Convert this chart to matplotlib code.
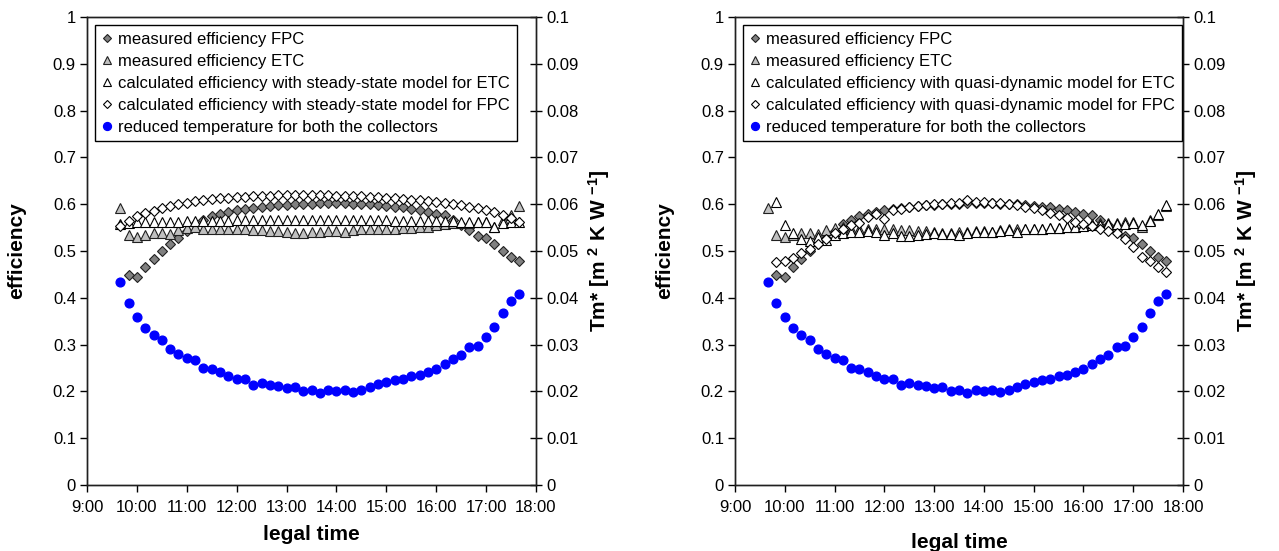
import numpy as np
import matplotlib
matplotlib.use("Agg")
import matplotlib.pyplot as plt
from matplotlib.ticker import FuncFormatter

plt.rcParams['font.family'] = ['Liberation Sans', 'DejaVu Sans']
plt.rcParams['mathtext.fontset'] = 'custom'
plt.rcParams['mathtext.rm'] = 'Liberation Sans:bold'
plt.rcParams['mathtext.it'] = 'Liberation Sans:bold'
plt.rcParams['mathtext.bf'] = 'Liberation Sans:bold'
plt.rcParams['mathtext.default'] = 'rm'

nan = np.nan

# sampling: every 10 minutes from 9:40 to 17:40
t_start = 9 + 40 / 60.0
t_step = 10 / 60.0
n_pts = 49
hours = t_start + t_step * np.arange(n_pts)

tick_hours = list(range(9, 19))
tick_labels = ["%d:00" % h for h in tick_hours]

# reduced temperature Tm* [m2 K/W] (same for both panels)
tm_reduced = [0.0434, 0.0389, 0.0359, 0.0336, 0.0320, 0.0310, 0.0290, 0.0280, 0.0271, 0.0267,
              0.0249, 0.0247, 0.0241, 0.0233, 0.0226, 0.0226, 0.0214, 0.0219, 0.0214, 0.0211,
              0.0207, 0.0209, 0.0201, 0.0203, 0.0197, 0.0204, 0.0201, 0.0203, 0.0199, 0.0204,
              0.0210, 0.0216, 0.0221, 0.0224, 0.0226, 0.0233, 0.0236, 0.0241, 0.0247, 0.0258,
              0.0269, 0.0278, 0.0294, 0.0296, 0.0317, 0.0338, 0.0368, 0.0394, 0.0408]

# measured efficiencies (same for both panels)
meas_fpc = [nan, 0.448, 0.445, 0.465, 0.482, 0.500, 0.514, 0.528, 0.543, 0.557,
            0.566, 0.574, 0.580, 0.584, 0.587, 0.590, 0.592, 0.594, 0.596, 0.598,
            0.599, 0.600, 0.601, 0.601, 0.602, 0.603, 0.603, 0.602, 0.601, 0.600,
            0.600, 0.599, 0.596, 0.595, 0.593, 0.590, 0.587, 0.583, 0.580, 0.576,
            0.567, 0.555, 0.545, 0.533, 0.527, 0.514, 0.501, 0.488, 0.478]

meas_etc = [0.591, 0.534, 0.530, 0.534, 0.538, 0.538, 0.536, 0.545, 0.550, 0.552,
            0.548, 0.546, 0.546, 0.546, 0.546, 0.546, 0.545, 0.545, 0.543, 0.543,
            0.541, 0.538, 0.538, 0.541, 0.541, 0.543, 0.543, 0.541, 0.545, 0.546,
            0.547, 0.547, 0.548, 0.548, 0.550, 0.550, 0.551, 0.552, 0.555, 0.557,
            0.559, 0.559, 0.560, 0.561, 0.561, 0.552, 0.566, 0.577, 0.596]

# steady-state model (left panel)
ss_etc = [0.557, 0.560, 0.561, 0.561, 0.562, 0.562, 0.563, 0.563, 0.564, 0.564,
          0.564, 0.565, 0.565, 0.565, 0.566, 0.566, 0.566, 0.566, 0.566, 0.566,
          0.566, 0.566, 0.566, 0.566, 0.566, 0.566, 0.566, 0.566, 0.566, 0.566,
          0.566, 0.566, 0.566, 0.565, 0.565, 0.565, 0.565, 0.565, 0.564, 0.564,
          0.564, 0.563, 0.563, 0.562, 0.561, 0.552, 0.559, 0.561, 0.562]

ss_fpc = [0.554, 0.565, 0.574, 0.582, 0.586, 0.591, 0.596, 0.600, 0.603, 0.606,
          0.608, 0.611, 0.613, 0.614, 0.616, 0.616, 0.617, 0.618, 0.618, 0.619,
          0.619, 0.619, 0.619, 0.619, 0.619, 0.619, 0.618, 0.618, 0.617, 0.617,
          0.616, 0.615, 0.614, 0.613, 0.611, 0.610, 0.609, 0.607, 0.605, 0.603,
          0.600, 0.598, 0.595, 0.592, 0.588, 0.583, 0.577, 0.570, 0.562]

# quasi-dynamic model (right panel)
qd_etc = [nan, 0.605, 0.556, 0.538, 0.525, 0.522, 0.530, 0.523, 0.535, 0.538,
          0.540, 0.541, 0.543, 0.540, 0.534, 0.538, 0.531, 0.532, 0.534, 0.537,
          0.538, 0.537, 0.536, 0.535, 0.538, 0.540, 0.541, 0.541, 0.543, 0.545,
          0.541, 0.546, 0.547, 0.548, 0.549, 0.550, 0.551, 0.552, 0.554, 0.555,
          0.556, 0.557, 0.558, 0.558, 0.559, 0.556, 0.564, 0.578, 0.598]

qd_fpc = [nan, 0.477, 0.479, 0.486, 0.495, 0.505, 0.514, 0.525, 0.538, 0.548,
          0.556, 0.560, 0.572, 0.578, 0.568, 0.588, 0.590, 0.594, 0.596, 0.598,
          0.600, 0.601, 0.602, 0.602, 0.610, 0.604, 0.604, 0.603, 0.602, 0.601,
          0.598, 0.595, 0.591, 0.588, 0.582, 0.577, 0.570, 0.563, 0.558, 0.553,
          0.548, 0.543, 0.538, 0.525, 0.509, 0.488, 0.479, 0.466, 0.456]

panels = [
    ("steady-state", ss_etc, ss_fpc),
    ("quasi-dynamic", qd_etc, qd_fpc),
]

fig = plt.figure(figsize=(12.79, 5.51), dpi=100)
W, H = 1279.0, 551.0
# axes boxes in pixels: left, right, top, bottom
boxes = [(87, 536, 17, 485), (735, 1183, 17, 485)]
xlabel_pads = [7, 13]


def fmt_g(v, pos):
    return "%g" % round(v, 4)


for i, (model, calc_etc, calc_fpc) in enumerate(panels):
    l, r, t, b = boxes[i]
    ax = fig.add_axes([l / W, (H - b) / H, (r - l) / W, (b - t) / H])
    ax2 = ax.twinx()

    ax.plot(hours, meas_fpc, 'D', ms=4.6, mfc='#808080', mec='#202020', mew=0.8,
            label='measured efficiency FPC')
    ax.plot(hours, meas_etc, '^', ms=6.5, mfc='#c0c0c0', mec='#202020', mew=0.8,
            label='measured efficiency ETC')
    ax.plot(hours, calc_etc, '^', ms=6.5, mfc='white', mec='black', mew=0.8,
            label='calculated efficiency with %s model for ETC' % model)
    ax.plot(hours, calc_fpc, 'D', ms=4.6, mfc='white', mec='black', mew=0.8,
            label='calculated efficiency with %s model for FPC' % model)
    ax2.plot(hours, tm_reduced, 'o', ms=6.3, color='#0000ff', mec='#0000ff',
             label='reduced temperature for both the collectors')

    ax.set_xlim(9, 18)
    ax.set_ylim(0, 1)
    ax2.set_ylim(0, 0.1)
    ax.set_xticks(tick_hours)
    ax.set_xticklabels(tick_labels)
    ax.set_yticks(np.arange(0, 1.01, 0.1))
    ax2.set_yticks(np.arange(0, 0.101, 0.01))
    ax.yaxis.set_major_formatter(FuncFormatter(fmt_g))
    ax2.yaxis.set_major_formatter(FuncFormatter(fmt_g))

    ax.tick_params(axis='both', direction='out', length=5, width=1, labelsize=12,
                   colors='black', pad=3)
    ax.tick_params(axis='x', pad=6)
    ax2.tick_params(axis='y', direction='inout', length=9, width=1, labelsize=12, pad=3)

    for a in (ax, ax2):
        for s in a.spines.values():
            s.set_linewidth(1.0)
            s.set_color('#202020')

    ax.set_xlabel('legal time', fontsize=15, fontweight='bold', labelpad=xlabel_pads[i])
    ax.set_ylabel('efficiency', fontsize=15, fontweight='bold', labelpad=19)
    ax2.set_ylabel(r'Tm* [m $^{2}$ K W $^{-1}$]', fontsize=15, fontweight='bold',
                   labelpad=5)

    h1, l1 = ax.get_legend_handles_labels()
    h2, l2 = ax2.get_legend_handles_labels()
    leg = ax2.legend(h1 + h2, l1 + l2, loc='upper left', bbox_to_anchor=(0.018, 0.983),
                     borderaxespad=0, fontsize=12, frameon=True, fancybox=False,
                     edgecolor='black', framealpha=1, handlelength=0.6,
                     handletextpad=0.4, labelspacing=0.42, borderpad=0.4,
                     markerscale=0.9)
    leg.get_frame().set_linewidth(1.0)

fig.savefig('out.png', dpi=100)
